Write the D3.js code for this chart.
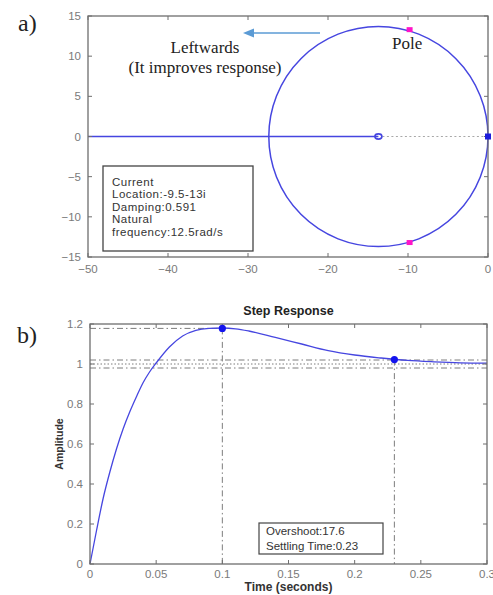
<!DOCTYPE html>
<html>
<head>
<meta charset="utf-8">
<script src="https://cdn.jsdelivr.net/npm/d3@7"></script>
<style>
  body { margin: 0; background: #fff; }
  .tick-label { font-family: "Liberation Sans", Arial, sans-serif; font-size: 11.5px; fill: #7a7a7a; }
  .serif { font-family: "Liberation Serif", "Times New Roman", serif; fill: #222; }
  .box-text { font-family: "Liberation Sans", Arial, sans-serif; font-size: 11.5px; fill: #333; letter-spacing: 0.5px; }
</style>
</head>
<body>
<svg id="chart"></svg>
<script>
// ---- data: root locus (a)
const locusXTicks = [-50, -40, -30, -20, -10, 0];
const locusYTicks = [-15, -10, -5, 0, 5, 10, 15];
const locusCircle = [-13.7, 0, 13.7];          // centre re, centre im, radius
const locusZero = [-13.7, 0];
const locusPole = [0, 0];
const selectedPoles = [[-9.8, 13.3], [-9.8, -13.2]];
const locusInfo = ['Current', 'Location:-9.5-13i', 'Damping:0.591', 'Natural', 'frequency:12.5rad/s'];

// ---- data: step response (b)
const stepT = [0, 0.005, 0.01, 0.015, 0.02, 0.025, 0.03, 0.035, 0.04, 0.045, 0.05, 0.06, 0.07, 0.08, 0.09, 0.1,
               0.11, 0.12, 0.14, 0.16, 0.18, 0.2, 0.22, 0.24, 0.26, 0.28, 0.3];
const stepAmp = [0, 0.17, 0.33, 0.46, 0.575, 0.675, 0.76, 0.835, 0.905, 0.96, 1.005, 1.085, 1.14, 1.168, 1.178, 1.18,
                 1.176, 1.165, 1.133, 1.1, 1.067, 1.045, 1.03, 1.018, 1.011, 1.006, 1.004];
const stepXTicks = [0, 0.05, 0.1, 0.15, 0.2, 0.25, 0.3];
const stepYTicks = [0, 0.2, 0.4, 0.6, 0.8, 1, 1.2];
const peakPoint = [0.1, 1.178];
const settlePoint = [0.23, 1.022];
const settleBand = [0.98, 1.02];
const finalValue = 1;
const stepInfo = ['Overshoot:17.6', 'Settling Time:0.23'];

const svg = d3.select('#chart').attr('width', 493).attr('height', 595);

const axisColor = '#6e6e6e';
const lineBlue = '#4646e0';
const refGray = '#7c7c7c';

// draws a MATLAB style boxed frame with inward ticks on all sides
function drawFrame(g, x, y, xticks, yticks, xfmt, yfmt, labelGap) {
  const [x0, x1] = x.range();
  const [y0, y1] = y.range();
  g.append('rect')
    .attr('x', x0).attr('y', y1)
    .attr('width', x1 - x0).attr('height', y0 - y1)
    .attr('fill', 'none').attr('stroke', axisColor).attr('stroke-width', 1.3);
  xticks.forEach((t) => {
    g.append('line').attr('x1', x(t)).attr('x2', x(t)).attr('y1', y0).attr('y2', y0 - 4)
      .attr('stroke', axisColor);
    g.append('line').attr('x1', x(t)).attr('x2', x(t)).attr('y1', y1).attr('y2', y1 + 4)
      .attr('stroke', axisColor);
    g.append('text').attr('class', 'tick-label')
      .attr('x', x(t)).attr('y', y0 + labelGap)
      .attr('text-anchor', 'middle').text(xfmt(t));
  });
  yticks.forEach((t) => {
    g.append('line').attr('x1', x0).attr('x2', x0 + 4).attr('y1', y(t)).attr('y2', y(t))
      .attr('stroke', axisColor);
    g.append('line').attr('x1', x1).attr('x2', x1 - 4).attr('y1', y(t)).attr('y2', y(t))
      .attr('stroke', axisColor);
    g.append('text').attr('class', 'tick-label')
      .attr('x', x0 - 7).attr('y', y(t) + 4)
      .attr('text-anchor', 'end').text(yfmt(t));
  });
}

// ================= (a) root locus =================
const xa = d3.scaleLinear().domain([-50, 0]).range([88, 488]);
const ya = d3.scaleLinear().domain([-15, 15]).range([257, 16]);
const ga = svg.append('g');

// real axis branch: from left edge to zero
ga.append('line')
  .attr('x1', xa(-50)).attr('x2', xa(locusZero[0]))
  .attr('y1', ya(0)).attr('y2', ya(0))
  .attr('stroke', lineBlue).attr('stroke-width', 1.5);
// dotted between zero and pole
ga.append('line')
  .attr('x1', xa(locusZero[0]) + 4).attr('x2', xa(locusPole[0]))
  .attr('y1', ya(0)).attr('y2', ya(0))
  .attr('stroke', '#a8a8a8').attr('stroke-width', 1.2).attr('stroke-dasharray', '2,2.5');

// circular branch
ga.append('ellipse')
  .attr('cx', xa(locusCircle[0])).attr('cy', ya(locusCircle[1]))
  .attr('rx', xa(locusCircle[0] + locusCircle[2]) - xa(locusCircle[0]))
  .attr('ry', ya(locusCircle[1]) - ya(locusCircle[1] + locusCircle[2]))
  .attr('fill', 'none').attr('stroke', lineBlue).attr('stroke-width', 1.5);

drawFrame(ga, xa, ya, locusXTicks, locusYTicks, d3.format('d'), d3.format('d'), 16);

// zero marker
ga.append('ellipse')
  .attr('cx', xa(locusZero[0])).attr('cy', ya(locusZero[1]))
  .attr('rx', 3.5).attr('ry', 2.6)
  .attr('fill', 'none').attr('stroke', lineBlue).attr('stroke-width', 1.6);
// pole marker
ga.append('rect')
  .attr('x', xa(locusPole[0]) - 3).attr('y', ya(locusPole[1]) - 3)
  .attr('width', 6).attr('height', 6)
  .attr('fill', '#1c1cdc');

// selected closed-loop poles
ga.selectAll('rect.sel').data(selectedPoles).enter().append('rect')
  .attr('class', 'sel')
  .attr('x', (d) => xa(d[0]) - 3).attr('y', (d) => ya(d[1]) - 2.5)
  .attr('width', 6).attr('height', 5)
  .attr('fill', '#ff14c8');

// info box
ga.append('rect').attr('x', 103).attr('y', 166).attr('width', 150).attr('height', 85)
  .attr('fill', '#fff').attr('stroke', '#444').attr('stroke-width', 1.3);
ga.selectAll('text.info').data(locusInfo).enter().append('text')
  .attr('class', 'box-text info')
  .attr('x', 112).attr('y', (d, i) => 186 + i * 12.4)
  .text((d) => d);

// annotations
svg.append('text').attr('class', 'serif').attr('x', 18).attr('y', 31)
  .attr('font-size', 24).text('a)');
svg.append('text').attr('class', 'serif').attr('x', 205).attr('y', 53)
  .attr('text-anchor', 'middle').attr('font-size', 17).text('Leftwards');
svg.append('text').attr('class', 'serif').attr('x', 205).attr('y', 73)
  .attr('text-anchor', 'middle').attr('font-size', 17).text('(It improves response)');
svg.append('text').attr('class', 'serif').attr('x', 392).attr('y', 49)
  .attr('font-size', 17).text('Pole');

const arrowColor = '#5b9bd5';
svg.append('line').attr('x1', 320).attr('x2', 252).attr('y1', 33).attr('y2', 33)
  .attr('stroke', arrowColor).attr('stroke-width', 1.4);
svg.append('path').attr('d', 'M243,33 L254,28.5 L254,37.5 Z').attr('fill', arrowColor);

// ================= (b) step response =================
const xb = d3.scaleLinear().domain([0, 0.3]).range([90, 487]);
const yb = d3.scaleLinear().domain([0, 1.2]).range([564, 324]);
const gb = svg.append('g');

const dashDot = '6,3,1.5,3';
// settling band and final value
settleBand.forEach((v) => {
  gb.append('line').attr('x1', xb(0)).attr('x2', xb(0.3)).attr('y1', yb(v)).attr('y2', yb(v))
    .attr('stroke', refGray).attr('stroke-width', 1).attr('stroke-dasharray', dashDot);
});
gb.append('line').attr('x1', xb(0)).attr('x2', xb(0.3)).attr('y1', yb(finalValue)).attr('y2', yb(finalValue))
  .attr('stroke', refGray).attr('stroke-width', 1).attr('stroke-dasharray', '1.5,2');
// peak guides
gb.append('line').attr('x1', xb(0)).attr('x2', xb(peakPoint[0])).attr('y1', yb(peakPoint[1])).attr('y2', yb(peakPoint[1]))
  .attr('stroke', refGray).attr('stroke-width', 1).attr('stroke-dasharray', dashDot);
gb.append('line').attr('x1', xb(peakPoint[0])).attr('x2', xb(peakPoint[0])).attr('y1', yb(peakPoint[1])).attr('y2', yb(0))
  .attr('stroke', refGray).attr('stroke-width', 1).attr('stroke-dasharray', dashDot);
// settling guide
gb.append('line').attr('x1', xb(settlePoint[0])).attr('x2', xb(settlePoint[0])).attr('y1', yb(settlePoint[1])).attr('y2', yb(0))
  .attr('stroke', refGray).attr('stroke-width', 1).attr('stroke-dasharray', dashDot);

const stepLine = d3.line()
  .x((d, i) => xb(stepT[i]))
  .y((d) => yb(d))
  .curve(d3.curveMonotoneX);
gb.append('path').datum(stepAmp)
  .attr('d', stepLine)
  .attr('fill', 'none').attr('stroke', lineBlue).attr('stroke-width', 1.3);

drawFrame(gb, xb, yb, stepXTicks, stepYTicks, (t) => (t === 0 ? '0' : String(t)), (t) => String(t), 14);

gb.selectAll('circle.mark').data([peakPoint, settlePoint]).enter().append('circle')
  .attr('class', 'mark')
  .attr('cx', (d) => xb(d[0])).attr('cy', (d) => yb(d[1]))
  .attr('r', 3.6).attr('fill', '#1414ee');

// info box
gb.append('rect').attr('x', 259).attr('y', 523).attr('width', 124).attr('height', 31)
  .attr('fill', '#fff').attr('stroke', '#444').attr('stroke-width', 1.2);
gb.selectAll('text.sinfo').data(stepInfo).enter().append('text')
  .attr('class', 'box-text sinfo')
  .attr('font-size', 10.5).style('letter-spacing', '0px')
  .attr('x', 266).attr('y', (d, i) => 535 + i * 14.5)
  .text((d) => d);

// title and labels
svg.append('text').attr('x', (xb(0) + xb(0.3)) / 2).attr('y', 315)
  .attr('text-anchor', 'middle')
  .style('font-family', '"Liberation Sans", Arial, sans-serif')
  .style('font-size', '12.5px').style('font-weight', 'bold').style('fill', '#222')
  .text('Step Response');
svg.append('text').attr('x', (xb(0) + xb(0.3)) / 2).attr('y', 591)
  .attr('text-anchor', 'middle')
  .style('font-family', '"Liberation Sans", Arial, sans-serif')
  .style('font-size', '12px').style('font-weight', 'bold').style('fill', '#333')
  .text('Time (seconds)');
svg.append('text')
  .attr('transform', `translate(63,${(yb(0) + yb(1.2)) / 2}) rotate(-90)`)
  .attr('text-anchor', 'middle')
  .style('font-family', '"Liberation Sans", Arial, sans-serif')
  .style('font-size', '10.5px').style('font-weight', 'bold').style('fill', '#333')
  .text('Amplitude');

svg.append('text').attr('class', 'serif').attr('x', 17).attr('y', 343)
  .attr('font-size', 24).text('b)');
</script>
</body>
</html>
